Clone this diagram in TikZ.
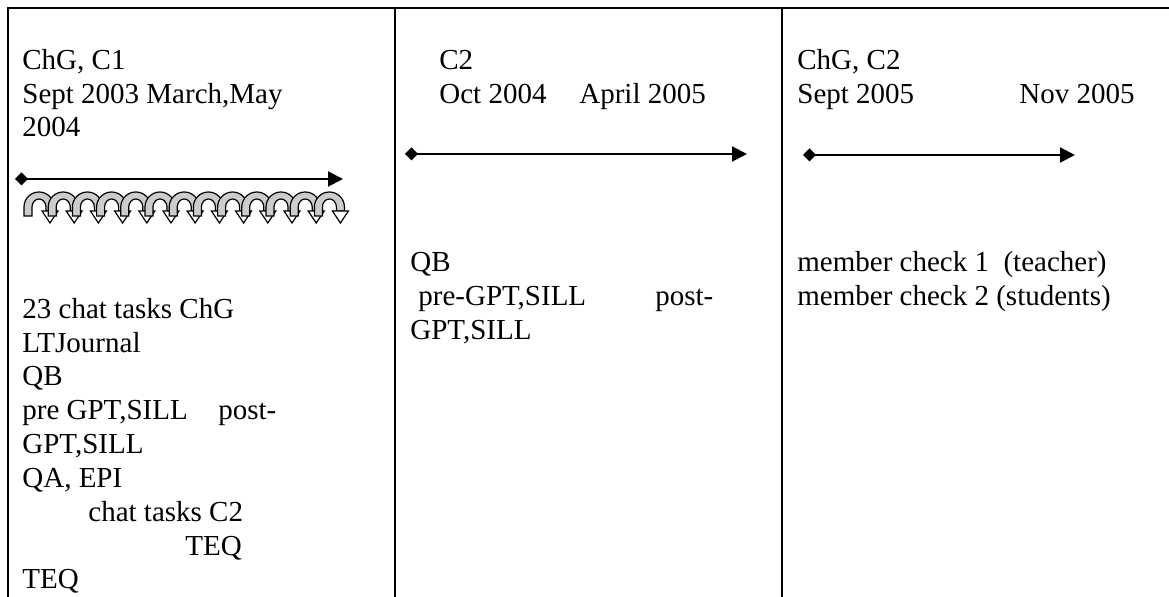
\documentclass[tikz,border=0pt]{standalone}
\usepackage{fontspec}
\setmainfont{Liberation Serif}
\usetikzlibrary{arrows.meta}

\begin{document}
\begin{tikzpicture}[x=0.5pt, y=-0.5pt]

    \tikzset{label/.style={%
      anchor=base west,%
      inner sep=0pt,%
      font=\fontsize{14.5pt}{16.7pt}\selectfont}%
    };

    \tikzset{frame/.style={draw, line width=1.35pt}};
    \tikzset{span/.style={line width=1pt, {Diamond[length=6.5pt, width=6.5pt]}-{Triangle[length=7.5pt, width=7.5pt]}}};
    \tikzset{loopband/.style={fill=gray!40, draw=black, line width=0.6pt}};
    \tikzset{loophead/.style={fill=white, draw=black, line width=0.6pt}};

    \useasboundingbox (0, 0) rectangle (1169, 597);

    %%%%%%%%%%
    % frame  %
    %%%%%%%%%%
    \draw [frame] (8, 597) -- (8, 8) -- (1169, 8);
    \draw [frame] (395, 8) -- (395, 597);
    \draw [frame] (782, 8) -- (782, 597);

    %%%%%%%%%%%%%%%%%%%%%%%%
    % first column: C1     %
    %%%%%%%%%%%%%%%%%%%%%%%%
    \path (22, 70) node [label] (chgc) {ChG, C1};
    \path (22, 103.5) node [label] (sept) {Sept 2003 March,May};
    \path (22, 137) node [label] (yr) {2004};

    \path (15, 179) coordinate (ones);
    \path (343, 179) coordinate (onee);
    \draw [span] (ones) -- (onee);

    \foreach \i in {0,...,12} {
      \pgfmathsetmacro\xo{24 + 24.2*\i}
      \filldraw [loopband] (\xo, 216) -- (\xo, 207)
        arc [start angle=180, end angle=360, x radius=15, y radius=15]
        -- (\xo+30, 211) -- (\xo+22, 211) -- (\xo+22, 207)
        arc [start angle=360, end angle=180, x radius=7, y radius=8]
        -- (\xo+8, 216) -- cycle;
      \filldraw [loophead] (\xo+18, 211) -- (\xo+34, 211) -- (\xo+26, 223) -- cycle;
    }

    \path (22, 319) node [label] (chat) {23 chat tasks ChG};
    \path (22, 353) node [label] (ltj) {LTJournal};
    \path (22, 386) node [label] (qbone) {QB};
    \path (22, 420) node [label] (preone) {pre GPT,SILL};
    \path (218, 420) node [label] (postone) {post-};
    \path (22, 454) node [label] (gptone) {GPT,SILL};
    \path (22, 488) node [label] (qa) {QA, EPI};
    \path (88, 522) node [label] (chattwo) {chat tasks C2};
    \path (185, 556) node [label] (teqin) {TEQ};
    \path (22, 589) node [label] (teq) {TEQ};

    %%%%%%%%%%%%%%%%%%%%%%%%
    % second column: C2    %
    %%%%%%%%%%%%%%%%%%%%%%%%
    \path (439, 70) node [label] (ctwo) {C2};
    \path (439, 103.5) node [label] (oct) {Oct 2004};
    \path (579, 103.5) node [label] (apr) {April 2005};

    \path (405, 154) coordinate (twos);
    \path (747, 154) coordinate (twoe);
    \draw [span] (twos) -- (twoe);

    \path (410, 272) node [label] (qbtwo) {QB};
    \path (418, 306) node [label] (pretwo) {pre-GPT,SILL};
    \path (655, 306) node [label] (posttwo) {post-};
    \path (410, 340) node [label] (gpttwo) {GPT,SILL};

    %%%%%%%%%%%%%%%%%%%%%%%%
    % third column: ChG C2 %
    %%%%%%%%%%%%%%%%%%%%%%%%
    \path (797, 70) node [label] (chgctwo) {ChG, C2};
    \path (797, 103.5) node [label] (septtwo) {Sept 2005};
    \path (1019, 103.5) node [label] (nov) {Nov 2005};

    \path (803, 155) coordinate (threes);
    \path (1075, 155) coordinate (threee);
    \draw [span] (threes) -- (threee);

    \path (797, 272) node [label] (mcone) {member check 1\ \ (teacher)};
    \path (797, 306) node [label] (mctwo) {member check 2 (students)};

  \end{tikzpicture}
\end{document}
